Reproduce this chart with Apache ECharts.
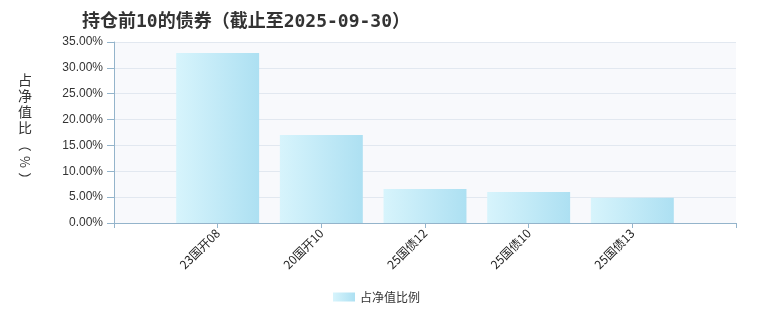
<!DOCTYPE html>
<html>
<head>
<meta charset="utf-8">
<script src="https://cdn.jsdelivr.net/npm/echarts@6/dist/echarts.min.js"></script>
<style>
  html, body { margin: 0; padding: 0; background: #fff; }
  #chart { width: 760px; height: 320px; }
</style>
</head>
<body>
<div id="chart"></div>
<script>
// Top-10 bond holdings as a share of net asset value
const titleText = '持仓前10的债券（截止至2025-09-30）';
const seriesName = '占净值比例';
const axisNameUpright = ['占', '净', '值', '比'];
const axisNameSideways = ['（', '%', '）'];
const bondNames = ['23国开08', '20国开10', '25国债12', '25国债10', '25国债13'];
const navShare = [32.87, 17.02, 6.57, 5.99, 4.89];
const yTicks = [0, 5, 10, 15, 20, 25, 30, 35];

// Pad the category axis with blank slots so bars sit on the tick marks
const axisCats = [''].concat(bondNames, ['']);
const axisVals = [null].concat(navShare, [null]);

const axisColor = '#94b4cb';
const nameFont = '14px "Noto Sans CJK SC", sans-serif';
const chart = echarts.init(document.getElementById('chart'), null, { renderer: 'canvas' });

// Vertical y-axis name: CJK glyphs upright, the bracketed unit turned sideways
const nameGraphics = axisNameUpright.map((ch, i) => ({
  type: 'text', x: 25, y: 80 + i * 16,
  style: { text: ch, font: nameFont, fill: '#333', textAlign: 'center', textVerticalAlign: 'middle' }
}));
axisNameSideways.forEach((ch, i) => {
  nameGraphics.push({
    type: 'text', x: 25, y: 145 + i * 17, rotation: -Math.PI / 2,
    style: { text: ch, font: '13px "Noto Sans CJK SC", sans-serif', fill: '#333', textAlign: 'center', textVerticalAlign: 'middle' }
  });
});

chart.setOption({
  animation: false,
  title: {
    text: titleText,
    left: 77,
    top: 8,
    textStyle: {
      fontSize: 18,
      fontWeight: 'bold',
      color: '#333',
      fontFamily: "'DejaVu Sans Mono', 'Noto Sans CJK SC', sans-serif"
    }
  },
  graphic: nameGraphics,
  legend: {
    data: [seriesName],
    top: 286,
    left: 328,
    icon: 'rect',
    itemWidth: 22,
    itemHeight: 9,
    textStyle: { fontSize: 12, color: '#333', fontFamily: "'Noto Sans CJK SC', sans-serif" }
  },
  grid: {
    left: 114, right: 24, top: 42, bottom: 97,
    show: true, backgroundColor: '#f8f9fc', borderWidth: 0
  },
  xAxis: {
    type: 'category',
    data: axisCats,
    boundaryGap: false,
    axisLine: { lineStyle: { color: axisColor, width: 1 } },
    axisTick: { show: true, length: 5, lineStyle: { color: axisColor } },
    axisLabel: {
      interval: 0, rotate: 45, fontSize: 12, color: '#222', margin: 8,
      fontFamily: "'Noto Sans CJK SC', sans-serif"
    },
    splitLine: { show: false }
  },
  yAxis: {
    type: 'value',
    min: yTicks[0],
    max: yTicks[yTicks.length - 1],
    interval: yTicks[1] - yTicks[0],
    axisLine: { show: true, lineStyle: { color: axisColor, width: 1 } },
    axisTick: { show: true, length: 7, lineStyle: { color: axisColor } },
    axisLabel: {
      fontSize: 12, color: '#333', margin: 11,
      fontFamily: "'Liberation Sans', Arial, sans-serif",
      formatter: v => v.toFixed(2) + '%'
    },
    splitLine: { lineStyle: { color: '#e2e8f0', width: 1 } }
  },
  series: [{
    name: seriesName,
    type: 'bar',
    data: axisVals,
    barWidth: '80%',
    itemStyle: {
      color: new echarts.graphic.LinearGradient(0, 0, 1, 0, [
        { offset: 0, color: '#d7f4fc' },
        { offset: 1, color: '#ade0f2' }
      ])
    }
  }]
});
</script>
</body>
</html>
